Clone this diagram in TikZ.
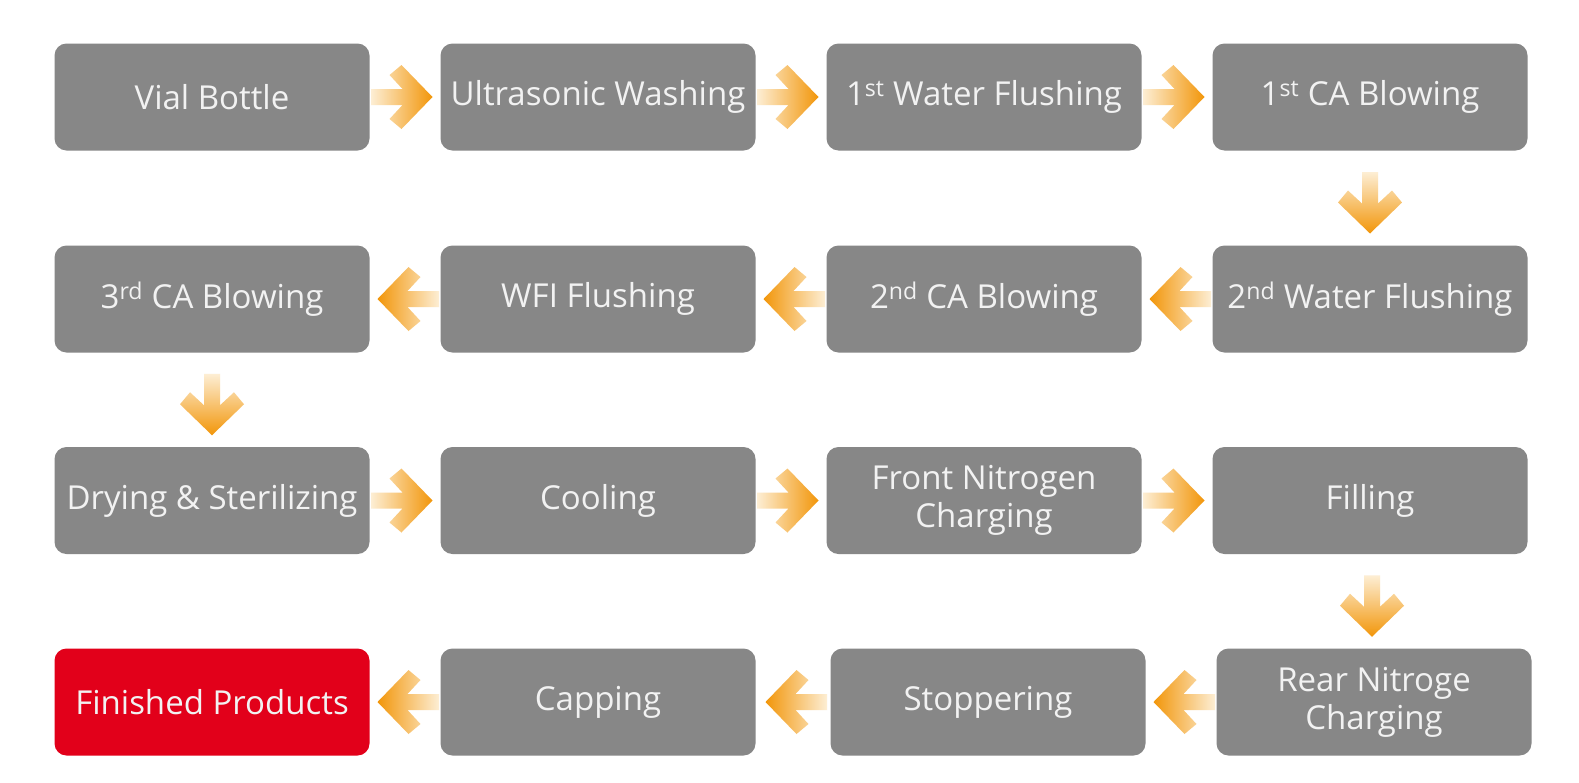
\documentclass[tikz,border=0pt]{standalone}
\usepackage{fontspec}
\setmainfont{Open Sans}
\usetikzlibrary{calc}
\definecolor{boxgray}{RGB}{135,135,135}
\definecolor{boxtext}{RGB}{242,242,242}
\definecolor{endred}{RGB}{226,0,26}
\definecolor{arrpale}{RGB}{253,238,212}
\definecolor{arrmid}{RGB}{248,192,80}
\definecolor{arrdark}{RGB}{242,150,10}
\newcommand{\flowarr}[4]{%
  \begin{scope}[shift={#1},rotate=#2]
    \shade[#3] (#4-34,8) -- (#4-2.5,8) -- (#4-15.5,22) -- (#4-3.5,32) -- (#4+27.5,0)
      -- (#4-3.5,-32) -- (#4-15.5,-22) -- (#4-2.5,-8) -- (#4-34,-8) -- cycle;
  \end{scope}}
\begin{document}
\begin{tikzpicture}[x=1pt,y=-1pt,
  stepbox/.style={rounded corners=12pt, fill=boxgray, minimum width=315pt,
    minimum height=107pt, text=boxtext, align=center, inner sep=0pt,
    font=\fontsize{33}{38}\selectfont},
  endbox/.style={stepbox, fill=endred},
  goright/.style={left color=arrpale, middle color=arrmid, right color=arrdark},
  goleft/.style={left color=arrdark, middle color=arrmid, right color=arrpale},
  godown/.style={top color=arrpale, middle color=arrmid, bottom color=arrdark}]
\useasboundingbox (0,0) rectangle (1579,782);
\fill[white] (0,0) rectangle (1579,782);
% row 1
\node[stepbox] (a1) at (212,97) {Vial Bottle};
\node[stepbox] (a2) at (598,97) {Ultrasonic Washing};
\node[stepbox] (a3) at (984,97) {1\textsuperscript{st} Water Flushing};
\node[stepbox] (a4) at (1370,97) {1\textsuperscript{st} CA Blowing};
% row 2
\node[stepbox] (b4) at (1370,299) {2\textsuperscript{nd} Water Flushing};
\node[stepbox] (b3) at (984,299) {2\textsuperscript{nd} CA Blowing};
\node[stepbox] (b2) at (598,299) {WFI Flushing};
\node[stepbox] (b1) at (212,299) {3\textsuperscript{rd} CA Blowing};
% row 3
\node[stepbox] (c1) at (212,500.5) {Drying \& Sterilizing};
\node[stepbox] (c2) at (598,500.5) {Cooling};
\node[stepbox] (c3) at (984,500.5) {Front Nitrogen\\Charging};
\node[stepbox] (c4) at (1370,500.5) {Filling};
% row 4
\node[stepbox] (d4) at (1374,702) {Rear Nitroge\\Charging};
\node[stepbox] (d3) at (988,702) {Stoppering};
\node[stepbox] (d2) at (598,702) {Capping};
\node[endbox] (d1) at (212,702) {Finished Products};
% arrows
\flowarr{($(a1.east)!0.5!(a2.west)$)}{0}{goright}{0}
\flowarr{($(a2.east)!0.5!(a3.west)$)}{0}{goright}{0}
\flowarr{($(a3.east)!0.5!(a4.west)$)}{0}{goright}{0}
\flowarr{($(a4.south)!0.5!(b4.north)$)}{-90}{godown}{8}
\flowarr{($(b4.west)!0.5!(b3.east)$)}{180}{goleft}{0}
\flowarr{($(b3.west)!0.5!(b2.east)$)}{180}{goleft}{0}
\flowarr{($(b2.west)!0.5!(b1.east)$)}{180}{goleft}{0}
\flowarr{($(b1.south)!0.5!(c1.north)$)}{-90}{godown}{8}
\flowarr{($(c1.east)!0.5!(c2.west)$)}{0}{goright}{0}
\flowarr{($(c2.east)!0.5!(c3.west)$)}{0}{goright}{0}
\flowarr{($(c3.east)!0.5!(c4.west)$)}{0}{goright}{0}
\flowarr{($(c4.south)!0.5!(d4.north)$)}{-90}{godown}{8}
\flowarr{($(d4.west)!0.5!(d3.east)$)}{180}{goleft}{0}
\flowarr{($(d3.west)!0.5!(d2.east)$)}{180}{goleft}{0}
\flowarr{($(d2.west)!0.5!(d1.east)$)}{180}{goleft}{0}
\end{tikzpicture}
\end{document}
